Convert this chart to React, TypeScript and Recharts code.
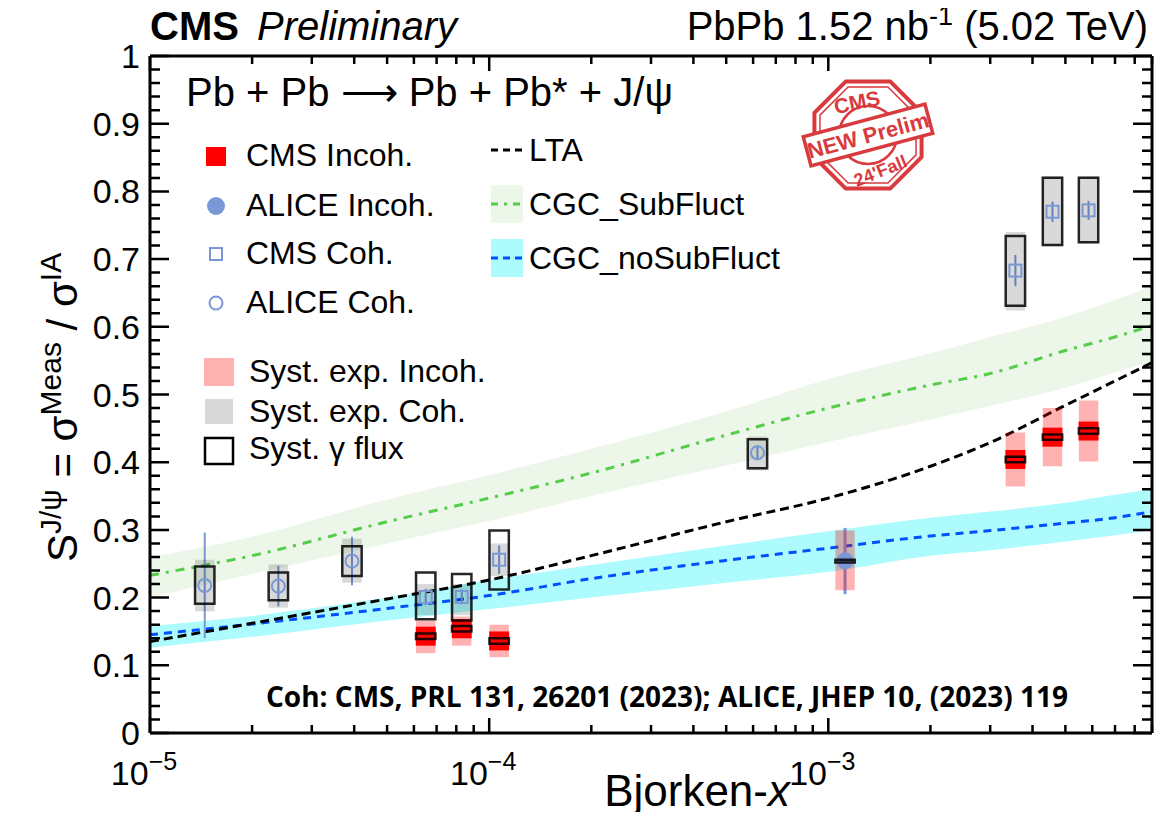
import React from 'react';
import {
  ComposedChart,
  Area,
  Line,
  Scatter,
  XAxis,
  YAxis,
  ReferenceArea,
  ReferenceLine,
  ErrorBar,
} from 'recharts';

// model curves, tabulated on a common Bjorken-x grid
const modelX = [1e-5, 2e-5, 5e-5, 1e-4, 2e-4, 5e-4, 1e-3, 2e-3, 3e-3, 5e-3, 7e-3, 9e-3];
const ltaCurve = [0.135, 0.162, 0.198, 0.226, 0.262, 0.312, 0.347, 0.394, 0.429, 0.484, 0.52, 0.547];
const subFluctMid = [0.233, 0.262, 0.312, 0.347, 0.384, 0.44, 0.48, 0.514, 0.531, 0.565, 0.585, 0.602];
const subFluctLow = [0.2, 0.235, 0.28, 0.313, 0.35, 0.395, 0.43, 0.463, 0.483, 0.51, 0.532, 0.549];
const subFluctHigh = [0.26, 0.29, 0.345, 0.381, 0.42, 0.475, 0.523, 0.561, 0.585, 0.615, 0.64, 0.66];
const noSubFluctMid = [0.145, 0.161, 0.184, 0.203, 0.228, 0.255, 0.273, 0.291, 0.299, 0.31, 0.318, 0.327];
const noSubFluctLow = [0.126, 0.142, 0.166, 0.183, 0.2, 0.222, 0.238, 0.262, 0.27, 0.283, 0.292, 0.3];
const noSubFluctHigh = [0.158, 0.173, 0.2, 0.226, 0.248, 0.277, 0.298, 0.318, 0.327, 0.34, 0.352, 0.36];

// CMS incoherent
const cmsIncohX = [6.5e-5, 8.3e-5, 1.07e-4, 3.56e-3, 4.58e-3, 5.85e-3];
const cmsIncohS = [0.143, 0.154, 0.136, 0.404, 0.437, 0.446];
const cmsIncohSystLow = [0.118, 0.129, 0.112, 0.364, 0.394, 0.401];
const cmsIncohSystHigh = [0.166, 0.172, 0.16, 0.444, 0.48, 0.491];
const cmsIncohFlux = [0.004, 0.004, 0.004, 0.004, 0.004, 0.004];

// ALICE incoherent
const aliceIncohX = [1.12e-3];
const aliceIncohS = [0.254];
const aliceIncohStat = [0.049];
const aliceIncohSystLow = [0.211];
const aliceIncohSystHigh = [0.299];
const aliceIncohFlux = [0.002];

// CMS coherent
const cmsCohX = [6.5e-5, 8.3e-5, 1.07e-4, 3.56e-3, 4.58e-3, 5.85e-3];
const cmsCohS = [0.201, 0.201, 0.256, 0.683, 0.77, 0.772];
const cmsCohStat = [0.012, 0.011, 0.021, 0.023, 0.015, 0.014];
const cmsCohSystLow = [0.174, 0.174, 0.232, 0.624, 0.719, 0.723];
const cmsCohSystHigh = [0.22, 0.22, 0.28, 0.74, 0.822, 0.822];
const cmsCohFluxLow = [0.168, 0.166, 0.212, 0.631, 0.721, 0.725];
const cmsCohFluxHigh = [0.237, 0.235, 0.299, 0.734, 0.82, 0.82];

// ALICE coherent
const aliceCohX = [1.45e-5, 2.39e-5, 3.94e-5, 6.18e-4];
const aliceCohS = [0.218, 0.217, 0.254, 0.414];
const aliceCohStat = [0.078, 0.03, 0.036, 0.011];
const aliceCohSystLow = [0.18, 0.185, 0.222, 0.388];
const aliceCohSystHigh = [0.256, 0.249, 0.287, 0.438];
const aliceCohFluxLow = [0.191, 0.196, 0.232, 0.391];
const aliceCohFluxHigh = [0.246, 0.237, 0.276, 0.434];

// axes
const xDomain = [1e-5, 9e-3];
const yDomain = [0, 1];
const xDecades = [1e-5, 1e-4, 1e-3];
const xDecadeLabels = ['\u22125', '\u22124', '\u22123'];
const xSubSteps = [2, 3, 4, 5, 6, 7, 8, 9];
const yMajor = [0, 0.1, 0.2, 0.3, 0.4, 0.5, 0.6, 0.7, 0.8, 0.9, 1];
const yTickLabels = ['0', '0.1', '0.2', '0.3', '0.4', '0.5', '0.6', '0.7', '0.8', '0.9', '1'];

const FONT = '"Liberation Sans", Arial, Helvetica, sans-serif';
const BLUE_MK = '#7a98d6';
const RED = '#ff0000';
const STAMP = '#d83a3e';
const BOX_W = 1.068; // half-width of systematic boxes, as a factor in x

const W = 1155;
const H = 804;
const MARGIN = { top: 48, right: 11, bottom: 19, left: 82 };
const Y_AXIS_W = 60;
const X_AXIS_H = 60;

// plot box, for the frame tick comb
const PL = MARGIN.left + Y_AXIS_W;
const PR = W - MARGIN.right;
const PT = MARGIN.top;
const PB = H - MARGIN.bottom - X_AXIS_H;
const lx0 = Math.log10(xDomain[0]);
const lx1 = Math.log10(xDomain[1]);
const xPix = (v: number) => PL + ((Math.log10(v) - lx0) / (lx1 - lx0)) * (PR - PL);
const yPix = (v: number) => PB - ((v - yDomain[0]) / (yDomain[1] - yDomain[0])) * (PB - PT);

const xTickRows: { v: number; major: boolean }[] = [];
xDecades.forEach((d) => {
  xTickRows.push({ v: d, major: true });
  xSubSteps.forEach((s) => {
    const v = d * s;
    if (v <= xDomain[1] * 1.0001) xTickRows.push({ v, major: false });
  });
});
// 0.02 steps; every fifth one is a major tick
const yTickRows = Array.from({ length: 51 }, (_, i) => ({ v: i / 50, major: i % 5 === 0 }));

const modelRows = modelX.map((x, i) => ({
  x,
  lta: ltaCurve[i],
  sub: subFluctMid[i],
  subBand: [subFluctLow[i], subFluctHigh[i]],
  noSub: noSubFluctMid[i],
  noSubBand: [noSubFluctLow[i], noSubFluctHigh[i]],
}));

const cmsIncohPts = cmsIncohX.map((x, i) => ({ x, y: cmsIncohS[i] }));
const aliceIncohPts = aliceIncohX.map((x, i) => ({ x, y: aliceIncohS[i], err: aliceIncohStat[i] }));
const cmsCohPts = cmsCohX.map((x, i) => ({ x, y: cmsCohS[i], err: cmsCohStat[i] }));
const aliceCohPts = aliceCohX.map((x, i) => ({ x, y: aliceCohS[i], err: aliceCohStat[i] }));

const XLabel = (p: any) => {
  const k = xDecades.findIndex((d) => Math.abs(d - p.payload.value) / d < 1e-6);
  if (k < 0) return <g />;
  return (
    <text x={p.x - 6} y={p.y + 52} textAnchor="middle" fontFamily={FONT} fontSize={34} fill="#000">
      10
      <tspan dy={-15} fontSize={25}>{xDecadeLabels[k]}</tspan>
    </text>
  );
};

const YLabel = (p: any) => {
  const k = yMajor.findIndex((v) => Math.abs(v - p.payload.value) < 1e-6);
  return (
    <text x={p.x - 10} y={p.y + 12} textAnchor="end" fontFamily={FONT} fontSize={34} fill="#000">
      {k >= 0 ? yTickLabels[k] : ''}
    </text>
  );
};

// inward tick comb on all four sides of the frame
const FrameTicks = () => {
  const segs: string[] = [];
  yTickRows.forEach((t) => {
    const y = yPix(t.v).toFixed(1);
    const len = t.major ? 19 : 10;
    segs.push(`M${PL} ${y}h${len}`, `M${PR} ${y}h${-len}`);
  });
  xTickRows.forEach((t) => {
    const x = xPix(t.v).toFixed(1);
    const len = t.major ? 15 : 8;
    segs.push(`M${x} ${PB}v${-len}`, `M${x} ${PT}v${len}`);
  });
  return <path d={segs.join(' ')} stroke="#000" strokeWidth={2.5} fill="none" />;
};

const RedSquare = (p: any) => <rect x={p.cx - 10} y={p.cy - 9.5} width={20} height={19} fill={RED} />;
const FilledCircle = (p: any) => <circle cx={p.cx} cy={p.cy} r={8.5} fill={BLUE_MK} />;
const OpenSquare = (p: any) => (
  <rect x={p.cx - 6} y={p.cy - 6} width={12} height={12} fill="none" stroke={BLUE_MK} strokeWidth={2} />
);
const OpenCircle = (p: any) => <circle cx={p.cx} cy={p.cy} r={6.5} fill="none" stroke={BLUE_MK} strokeWidth={2} />;

const box = (key: string, x: number, lo: number, hi: number, style: any) => (
  <ReferenceArea key={key} x1={x / BOX_W} x2={x * BOX_W} y1={lo} y2={hi} ifOverflow="visible" {...style} />
);

const grayStyle = { fill: '#000', fillOpacity: 0.15, stroke: 'none', zIndex: 450 };
const pinkStyle = { fill: RED, fillOpacity: 0.3, stroke: 'none', zIndex: 450 };
const fluxStyle = { fill: 'none', stroke: '#000', strokeWidth: 2.5, strokeOpacity: 0.85, zIndex: 700 };
const frame = { stroke: '#000', strokeWidth: 3 };

const Stamp = ({ cx, cy }: { cx: number; cy: number }) => {
  const oct = (r: number) =>
    Array.from({ length: 8 }, (_, i) => {
      const a = Math.PI / 8 + (i * Math.PI) / 4;
      return `${cx + r * Math.cos(a)},${cy + r * Math.sin(a)}`;
    }).join(' ');
  return (
    <g stroke={STAMP} fill="none" fontFamily={FONT} fontWeight="bold">
      <polygon points={oct(58)} strokeWidth={4} />
      <polygon points={oct(52)} strokeWidth={1.5} />
      <circle cx={cx} cy={cy} r={29} strokeWidth={2.5} />
      <text x={cx - 4} y={cy - 27} textAnchor="middle" fontSize={21} fill={STAMP} stroke="none" transform={`rotate(-12 ${cx} ${cy})`}>
        CMS
      </text>
      <text x={cx - 2} y={cy + 44} textAnchor="middle" fontSize={18} fill={STAMP} stroke="none" transform={`rotate(-22 ${cx} ${cy})`}>
        24'Fall
      </text>
      <g transform={`rotate(-15 ${cx} ${cy})`}>
        <rect x={cx - 63} y={cy - 15} width={126} height={30} fill="#fff" strokeWidth={3.5} />
        <text x={cx} y={cy + 8} textAnchor="middle" fontSize={22} fill={STAMP} stroke="none">
          NEW Prelim
        </text>
      </g>
    </g>
  );
};

const Annotations = () => (
  <svg width={W} height={H} style={{ position: 'absolute', left: 0, top: 0, overflow: 'visible', pointerEvents: 'none' }}>
    <FrameTicks />
    <g transform="translate(-8 -8)" fontFamily={FONT} fill="#000">
      <text x={150} y={40} fontSize={40} fontWeight="bold">CMS</text>
      <text x={257} y={40} fontSize={40} fontStyle="italic">Preliminary</text>
      <text x={1148} y={40} fontSize={40} textAnchor="end">
        PbPb 1.52 nb<tspan dy={-15} fontSize={27}>-1</tspan>
        <tspan dy={15}> (5.02 TeV)</tspan>
      </text>

      <text x={186} y={106} fontSize={40}>Pb + Pb {'\u27f6'} Pb + Pb* + J/{'\u03c8'}</text>

      {/* legend, left column */}
      <rect x={206} y={147} width={20} height={19} fill={RED} />
      <text x={246} y={166} fontSize={32}>CMS Incoh.</text>
      <circle cx={216} cy={206} r={9} fill={BLUE_MK} />
      <text x={246} y={216} fontSize={32}>ALICE Incoh.</text>
      <rect x={210} y={248} width={12} height={12} fill="none" stroke={BLUE_MK} strokeWidth={2} />
      <text x={246} y={264} fontSize={32}>CMS Coh.</text>
      <circle cx={216} cy={303} r={6.5} fill="none" stroke={BLUE_MK} strokeWidth={2} />
      <text x={246} y={313} fontSize={32}>ALICE Coh.</text>

      <rect x={204} y={358} width={30} height={28} fill={RED} fillOpacity={0.3} />
      <text x={249} y={382} fontSize={32}>Syst. exp. Incoh.</text>
      <rect x={205} y={399} width={28} height={25} fill="#000" fillOpacity={0.15} />
      <text x={249} y={422} fontSize={32}>Syst. exp. Coh.</text>
      <rect x={205} y={438} width={28} height={26} fill="none" stroke="#000" strokeWidth={2.5} />
      <text x={249} y={459} fontSize={32}>Syst. {'\u03b3'} flux</text>

      {/* legend, right column */}
      <line x1={491} y1={150} x2={523} y2={150} stroke="#000" strokeWidth={3} strokeDasharray="7 5" />
      <text x={529} y={161} fontSize={32}>LTA</text>
      <rect x={491} y={185} width={32} height={38} fill="#ecf7e9" />
      <line x1={491} y1={204} x2={523} y2={204} stroke="#55cc4a" strokeWidth={3} strokeDasharray="7 6 3 6" />
      <text x={529} y={215} fontSize={32}>CGC_SubFluct</text>
      <rect x={491} y={239} width={32} height={38} fill="#aefbfd" />
      <line x1={491} y1={258} x2={523} y2={258} stroke="#0050ff" strokeWidth={3} strokeDasharray="7 5" />
      <text x={529} y={269} fontSize={32}>CGC_noSubFluct</text>

      <Stamp cx={868} cy={135} />

      <text x={266} y={707} fontFamily='"Open Sans", sans-serif' fontWeight="bold" fontSize={28} textLength={802}>
        Coh: CMS, PRL 131, 26201 (2023); ALICE, JHEP 10, (2023) 119
      </text>

      <text x={790} y={806} fontSize={44} textAnchor="end">
        Bjorken-<tspan fontStyle="italic">x</tspan>
      </text>

      <text transform="translate(77 562) rotate(-90)" fontSize={42}>
        S<tspan dy={-16} fontSize={30}>J/{'\u03c8'}</tspan>
        <tspan dy={16}> = {'\u03c3'}</tspan>
        <tspan dy={-16} fontSize={30}>Meas</tspan>
        <tspan dy={16}> / {'\u03c3'}</tspan>
        <tspan dy={-16} fontSize={30}>IA</tspan>
      </text>
    </g>
  </svg>
);

const App = () => (
  <div style={{ position: 'relative', width: W, height: H }}>
    <ComposedChart width={W} height={H} data={modelRows} margin={MARGIN}>
      <XAxis
        dataKey="x"
        type="number"
        scale="log"
        domain={xDomain}
        allowDataOverflow
        ticks={xDecades}
        interval={0}
        tickSize={0}
        tickMargin={0}
        tickLine={false}
        tick={(p: any) => <XLabel {...p} />}
        axisLine={frame}
        height={X_AXIS_H}
      />
      <YAxis
        dataKey="y"
        type="number"
        domain={yDomain}
        allowDataOverflow
        ticks={yMajor}
        interval={0}
        tickSize={0}
        tickMargin={0}
        tickLine={false}
        tick={(p: any) => <YLabel {...p} />}
        axisLine={frame}
        width={Y_AXIS_W}
      />

      <Area dataKey="subBand" type="monotone" stroke="none" fill="#ecf7e9" fillOpacity={1} isAnimationActive={false} />
      <Area dataKey="noSubBand" type="monotone" stroke="none" fill="#aefbfd" fillOpacity={1} isAnimationActive={false} />
      <Line dataKey="sub" type="monotone" stroke="#55cc4a" strokeWidth={3} strokeDasharray="9 7 3 7" dot={false} isAnimationActive={false} />
      <Line dataKey="noSub" type="monotone" stroke="#0050ff" strokeWidth={3} strokeDasharray="8 6" dot={false} isAnimationActive={false} />
      <Line dataKey="lta" type="monotone" stroke="#000" strokeWidth={3} strokeDasharray="9 5" dot={false} isAnimationActive={false} />

      {cmsCohX.map((x, i) => box(`cg${i}`, x, cmsCohSystLow[i], cmsCohSystHigh[i], grayStyle))}
      {aliceCohX.map((x, i) => box(`ag${i}`, x, aliceCohSystLow[i], aliceCohSystHigh[i], grayStyle))}
      {cmsIncohX.map((x, i) => box(`cp${i}`, x, cmsIncohSystLow[i], cmsIncohSystHigh[i], pinkStyle))}
      {aliceIncohX.map((x, i) => box(`ap${i}`, x, aliceIncohSystLow[i], aliceIncohSystHigh[i], pinkStyle))}

      <Scatter data={cmsCohPts} dataKey="y" shape={OpenSquare} isAnimationActive={false}>
        <ErrorBar dataKey="err" direction="y" width={0} stroke={BLUE_MK} strokeWidth={2} />
      </Scatter>
      <Scatter data={aliceCohPts} dataKey="y" shape={OpenCircle} isAnimationActive={false}>
        <ErrorBar dataKey="err" direction="y" width={0} stroke={BLUE_MK} strokeWidth={2} />
      </Scatter>
      <Scatter data={aliceIncohPts} dataKey="y" shape={FilledCircle} isAnimationActive={false}>
        <ErrorBar dataKey="err" direction="y" width={0} stroke={BLUE_MK} strokeWidth={3} />
      </Scatter>
      <Scatter data={cmsIncohPts} dataKey="y" shape={RedSquare} isAnimationActive={false} />

      {cmsCohX.map((x, i) => box(`cf${i}`, x, cmsCohFluxLow[i], cmsCohFluxHigh[i], fluxStyle))}
      {aliceCohX.map((x, i) => box(`af${i}`, x, aliceCohFluxLow[i], aliceCohFluxHigh[i], fluxStyle))}
      {cmsIncohX.map((x, i) =>
        box(`ci${i}`, x, cmsIncohS[i] - cmsIncohFlux[i], cmsIncohS[i] + cmsIncohFlux[i], fluxStyle),
      )}
      {aliceIncohX.map((x, i) =>
        box(`ai${i}`, x, aliceIncohS[i] - aliceIncohFlux[i], aliceIncohS[i] + aliceIncohFlux[i], fluxStyle),
      )}

      {/* top and right edges of the frame */}
      <ReferenceLine y={yDomain[1]} stroke="#000" strokeWidth={3} ifOverflow="visible" zIndex={800} />
      <ReferenceLine x={xDomain[1]} stroke="#000" strokeWidth={3} ifOverflow="visible" zIndex={800} />
    </ComposedChart>
    <Annotations />
  </div>
);

export default App;
